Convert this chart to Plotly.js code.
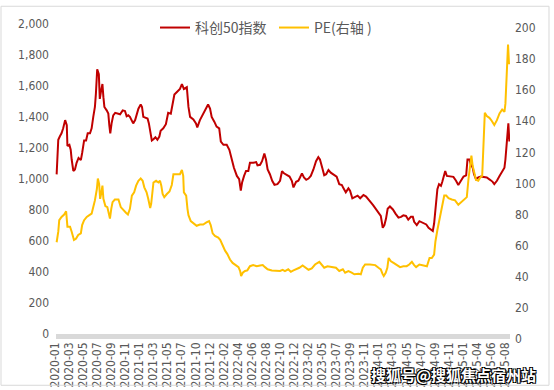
<!DOCTYPE html>
<html>
<head>
<meta charset="utf-8">
<script src="https://cdn.plot.ly/plotly-3.0.1.min.js"></script>
<style>html,body{margin:0;padding:0;background:#fff;}#chart{width:554px;height:390px;}</style>
</head>
<body>
<div id="chart"></div>
<script>
// Category labels along the x axis (one every 43 trading days)
const tickLabels = ["2020-01","2020-03","2020-05","2020-07","2020-09","2020-11","2021-01","2021-03","2021-05","2021-07","2021-10","2021-12","2022-02","2022-04","2022-06","2022-08","2022-10","2022-12","2023-02","2023-05","2023-07","2023-09","2023-11","2024-01","2024-03","2024-05","2024-07","2024-09","2024-11","2025-01","2025-04","2025-06","2025-08"];
const daysPerLabel = 43;

// 科创50指数 (left axis): trading-day index and value
const kcDay = [5,7,10,15,20,25,31,36,38,44,48,51,56,61,66,72,79,83,89,95,100,107,112,117,122,125,129,134,137,141,145,148,151,158,163,166,169,173,178,184,199,207,214,219,224,229,235,239,245,250,255,262,266,270,277,283,287,291,296,301,307,313,319,323,331,339,346,354,360,365,372,382,388,394,403,408,413,423,431,435,443,453,462,468,474,479,487,494,502,507,515,525,533,540,547,556,563,568,572,578,584,591,596,606,615,619,627,633,640,645,650,657,664,671,680,688,694,700,709,717,724,729,737,744,749,755,761,768,775,782,790,798,805,810,817,823,829,836,843,851,861,869,877,882,889,897,902,909,917,925,933,943,951,958,965,973,982,989,996,1002,1007,1012,1017,1024,1033,1041,1050,1058,1065,1073,1080,1088,1094,1098,1106,1114,1124,1135,1142,1149,1155,1159,1164,1169,1174,1180,1184,1189,1193,1198,1208,1218,1226,1233,1241,1249,1257,1261,1267,1271,1277,1281,1287,1294,1302,1312,1320,1330,1338,1343,1351,1359,1367,1374,1377,1380,1383,1386,1389];
const kcVal = [1030,1136,1253,1276,1295,1327,1380,1348,1213,1221,1189,1126,1052,1062,1105,1136,1122,1168,1249,1249,1295,1295,1327,1401,1465,1549,1708,1676,1517,1570,1613,1528,1465,1443,1422,1348,1295,1359,1411,1427,1418,1443,1439,1405,1411,1401,1380,1359,1380,1422,1454,1481,1465,1401,1397,1390,1359,1295,1249,1257,1270,1253,1274,1312,1327,1354,1427,1422,1486,1545,1560,1581,1613,1581,1592,1465,1401,1384,1359,1333,1380,1422,1454,1481,1454,1401,1370,1338,1327,1242,1221,1221,1189,1126,1073,1020,999,925,978,1020,1052,1052,1105,1105,1109,1088,1092,1115,1164,1126,1062,1031,989,963,967,989,1050,1037,1024,1016,989,946,982,989,1010,1037,1010,995,1003,1020,1062,1115,1141,1126,1073,1024,1031,1058,1041,1031,1016,967,961,940,914,940,925,876,883,893,876,897,887,872,851,830,804,787,762,686,703,745,808,823,804,777,751,756,766,762,738,756,756,724,703,728,717,707,686,677,665,713,830,935,967,957,982,1031,1052,1020,1016,1014,989,961,989,1016,1024,1126,1126,1094,1073,1031,999,1010,1016,1014,1010,995,982,967,989,1020,1052,1073,1126,1189,1274,1359,1242];

// PE (right axis): trading-day index and value
const peDay = [5,10,13,20,28,34,38,46,51,58,64,71,79,83,89,97,105,112,117,122,128,131,135,138,142,145,148,154,160,165,168,172,176,183,194,201,209,217,223,229,235,242,248,255,262,268,273,280,285,291,294,297,301,309,316,321,325,329,334,342,350,357,362,372,382,388,392,394,401,405,408,415,423,433,443,453,463,471,476,482,489,499,505,513,520,527,535,543,551,561,566,569,574,581,588,596,606,617,627,635,642,650,663,676,688,696,703,713,721,729,737,747,757,765,775,785,795,808,816,823,833,846,859,869,880,887,897,907,915,928,935,941,948,963,979,989,996,1001,1005,1011,1016,1020,1027,1035,1045,1055,1065,1075,1083,1091,1098,1104,1114,1124,1137,1145,1152,1159,1163,1169,1175,1180,1186,1190,1196,1203,1213,1223,1233,1241,1249,1259,1264,1269,1273,1277,1282,1287,1294,1300,1306,1310,1314,1320,1328,1335,1343,1351,1359,1367,1374,1377,1379,1382,1385,1388];
const peVal = [62.2,69,76.4,78.5,80,82.1,72.2,72.2,69,63.7,64.4,66.9,67.9,73.2,76.4,78.5,79.6,80.6,84.8,89.1,96.4,103.2,99.6,90.1,94.3,98.6,90.1,85.5,84.8,80.6,77.4,83.7,88,89.7,89.7,84.8,82.7,81.2,80,83.7,92.2,94.3,98.6,101.7,103.2,101.7,97.5,94.3,90.1,84.2,86.9,94.3,100.6,101.7,100.6,101.7,98.6,93.2,91.2,93.2,94.8,99,105.9,105.9,105.9,108.7,104.9,94.3,92.2,83.7,79.6,75.8,74.3,72.8,73.6,73.6,74.9,75.8,73.2,67.9,66.3,65.2,63.7,59.5,56.8,54.6,51.1,48.9,47.5,46.2,43.7,40.5,42.6,43.7,44.1,46.8,47.5,46.8,47.3,47.5,46.2,44.8,44.1,43.7,43.7,44.5,43.7,44.8,43.2,44.1,44.8,45.8,47.3,46.2,44.5,45.4,47.9,49.6,47.9,45.8,46.7,46.2,45.8,43.7,44.8,42.6,43.7,42.6,41.6,42,41.6,45.8,47.9,47.9,47.5,45.8,44.8,42,40.5,42.6,45.8,52.1,50,48.9,47.3,46.2,46.7,46.8,47.9,49.6,47.5,46.2,47.9,47.3,46.8,52.1,52.1,54.2,62.7,70.1,75.8,80.6,86.9,92.2,92.2,90.5,89.7,89.1,86.3,88,89.7,91.2,102.7,113.3,117.9,111.2,105.9,102.4,101.7,103.8,104.9,121.7,145.4,143.3,142.2,140.3,137.6,140.7,145,147.5,146,151.3,161.8,176.6,189.3,176.6];

const tickVals = tickLabels.map((_, i) => i * daysPerLabel);

const axisFont = {family: "DejaVu Sans Condensed, Liberation Sans Narrow, Arial Narrow, sans-serif", size: 12, color: "#595959"};

const traces = [
  {x: kcDay, y: kcVal, name: "科创50指数", type: "scatter", mode: "lines",
   line: {color: "#C00000", width: 2}, yaxis: "y"},
  {x: peDay, y: peVal, name: "PE(右轴 )", type: "scatter", mode: "lines",
   line: {color: "#FFC000", width: 2}, yaxis: "y2"}
];

const layout = {
  width: 554, height: 390,
  margin: {l: 54, r: 44, t: 19, b: 51, pad: 0},
  paper_bgcolor: "#fff", plot_bgcolor: "#fff",
  showlegend: true,
  legend: {orientation: "h", x: 0.2215, xanchor: "left", y: 0.9875, yanchor: "middle",
           font: {family: "Noto Sans CJK SC", size: 14, color: "#595959"},
           bgcolor: "rgba(0,0,0,0)", entrywidth: 74, itemwidth: 30},
  xaxis: {range: [-3.06, 1391], tickvals: tickVals, ticktext: tickLabels, tickangle: -90,
          showgrid: false, zeroline: false, showline: false, ticks: "",
          tickfont: axisFont, automargin: false, fixedrange: true},
  yaxis: {range: [-31.7, 2000], tickvals: [0,200,400,600,800,1000,1200,1400,1600,1800,2000],
          tickformat: ",", showgrid: false, zeroline: false, showline: false, ticks: "",
          tickfont: axisFont, automargin: false, ticklabelstandoff: 4},
  yaxis2: {range: [0, 202.5], overlaying: "y", side: "right", tickvals: [0,20,40,60,80,100,120,140,160,180,200],
           showgrid: false, zeroline: false, showline: false, ticks: "",
           tickfont: axisFont, automargin: false, ticklabelstandoff: 4},
  shapes: [
    {type: "rect", xref: "paper", yref: "paper", x0: 0.0044, x1: 1, y0: 0, y1: 0.0156,
     fillcolor: "#d9d9d9", line: {width: 0}, layer: "below"},
    {type: "rect", xref: "paper", yref: "paper", x0: -0.1162, x1: 1.0855, y0: -0.1469, y1: 1.0563,
     fillcolor: "rgba(0,0,0,0)", line: {color: "#d9d9d9", width: 1}}
  ],
  annotations: [
    {text: "搜狐号@搜狐焦点宿州站", xref: "paper", yref: "paper", x: 0.875, y: -0.1125,
     xanchor: "center", yanchor: "middle", showarrow: false,
     font: {family: "Noto Sans CJK SC", size: 15, color: "#ffffff", weight: 700,
            shadow: "1px 1px 0 #000, -1px -1px 0 #000, 1px -1px 0 #000, -1px 1px 0 #000"}}
  ]
};

Plotly.newPlot("chart", traces, layout, {displayModeBar: false, staticPlot: true});
</script>
</body>
</html>
